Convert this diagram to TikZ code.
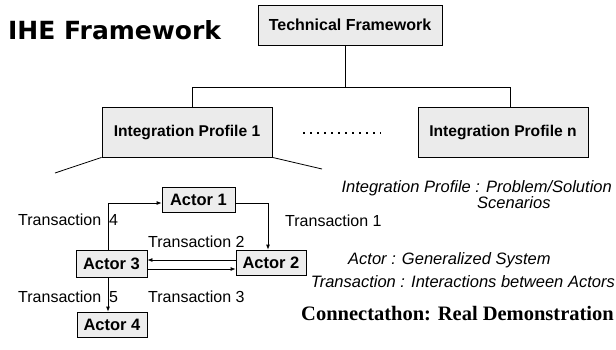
\documentclass[tikz,border=0pt]{standalone}
\usepackage{fontspec}
\setmainfont{Liberation Sans}
\newfontfamily\tnrfont{Liberation Serif}
\newfontfamily\verdfont{DejaVu Sans}
\usetikzlibrary{arrows.meta}
\begin{document}
\begin{tikzpicture}[x=1pt,y=-1pt,
  gbox/.style={draw, line width=0.8pt, fill=black!8, inner sep=0pt, font=\fontsize{15.6}{18}\selectfont\bfseries},
  abox/.style={draw, line width=0.8pt, fill=black!7, inner sep=0pt, minimum width=71pt, minimum height=25pt, font=\fontsize{16.5}{19}\selectfont\bfseries},
  lnk/.style={line width=0.8pt},
  arr/.style={line width=0.8pt, -{Latex[length=5pt,width=4pt]}},
  tlab/.style={inner sep=0pt, anchor=west, font=\fontsize{16}{19}\selectfont},
  ilab/.style={inner sep=0pt, font=\fontsize{16.5}{19}\selectfont\itshape},
  dotline/.style={line width=2.2pt, dash pattern=on 2.2pt off 4.8pt}
]
\useasboundingbox (0,0) rectangle (616,349);
\fill[white] (0,0) rectangle (616,349);

\node[inner sep=0pt, anchor=west, font=\verdfont\fontsize{25}{30}\selectfont\bfseries] (title) at (8,30) {IHE Framework};

\node[gbox, minimum width=184pt, minimum height=40pt, font=\fontsize{16}{19}\selectfont\bfseries] (tf) at (350,25) {Technical Framework};
\node[gbox, minimum width=170pt, minimum height=50pt] (p1) at (187,132) {Integration Profile 1};
\node[gbox, minimum width=170pt, minimum height=50pt] (pn) at (503,132) {Integration Profile n};

\coordinate (hm) at (345,87);
\coordinate (hl) at (192,87);
\coordinate (hr) at (510,87);
\draw[lnk] (tf.south -| hm) -- (hm);
\draw[lnk] (p1.north -| hl) -- (hl) -- (hr) -- (pn.north -| hr);

\coordinate (d1) at (303,133);
\coordinate (d2) at (381,133);
\draw[dotline] (d1) -- (d2);

\coordinate (fl) at (55,173);
\coordinate (fr) at (322,169);
\draw[lnk] (p1.south west) -- (fl);
\draw[lnk] (p1.south east) -- (fr);

\node[abox, minimum width=73pt] (a1) at (198.5,199.5) {Actor 1};
\node[abox, minimum height=27pt] (a3) at (111.5,263.5) {Actor 3};
\node[abox, minimum width=70pt] (a2) at (271,262.5) {Actor 2};
\node[abox, minimum width=70pt] (a4) at (112,324.5) {Actor 4};

\coordinate (t4a) at ([xshift=-3.5pt]a3.north);
\draw[arr] (t4a) |- ([yshift=-3.5pt]a1.west);
\draw[arr] ([yshift=-3.5pt]a1.east) -| ([xshift=-3pt]a2.north);
\coordinate (t2a) at ([yshift=2.5pt]a2.west);
\draw[arr] (t2a) -- (t2a -| a3.east);
\coordinate (t3a) at ([yshift=-5.5pt]a3.east);
\draw[arr] (t3a) -- (t3a -| a2.west);
\coordinate (t5a) at ([xshift=-3.5pt]a3.south);
\draw[arr] (t5a) -- (t5a |- a4.north);

\node[tlab] (l4) at (18,220) {Transaction\hspace{8pt}4};
\node[tlab] (l2) at (148,242) {Transaction 2};
\node[tlab] (l1) at (285,221) {Transaction 1};
\node[tlab] (l5) at (18,297) {Transaction\hspace{8pt}5};
\node[tlab] (l3) at (148,297) {Transaction 3};

\node[ilab, anchor=east] (d1t) at (612,188) {Integration Profile : Problem/Solution};
\node[ilab, anchor=west] (d2t) at (477,203) {Scenarios};
\node[ilab, anchor=west] (d3t) at (348,260) {Actor : Generalized System};
\node[ilab, anchor=east] (d4t) at (615,282) {Transaction : Interactions between Actors};

\node[inner sep=0pt, anchor=east, font=\tnrfont\fontsize{20.5}{24}\selectfont\bfseries] (conn) at (614,314) {Connectathon: Real Demonstration};
\end{tikzpicture}
\end{document}
